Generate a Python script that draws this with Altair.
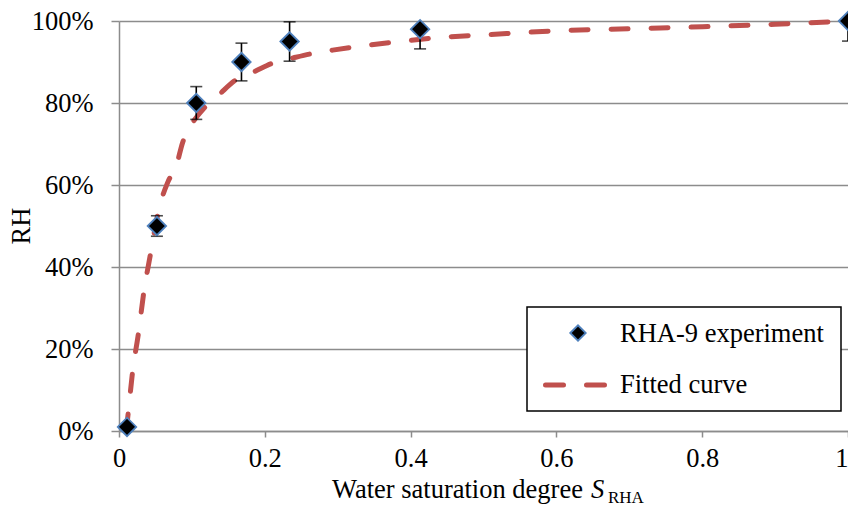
import altair as alt
import pandas as pd

# Experimental data (water saturation degree vs RH %)
sat_exp = [0.011, 0.052, 0.106, 0.168, 0.234, 0.413, 1.0]
rh_exp = [1, 50, 80, 90, 95, 98, 100]
rh_err = [0, 2.5, 4.0, 4.6, 4.8, 4.8, 4.9]

# Fitted curve
sat_fit = [0.010, 0.013, 0.019, 0.026, 0.035, 0.042, 0.056, 0.067, 0.079, 0.087,
           0.099, 0.117, 0.137, 0.160, 0.185, 0.212, 0.239, 0.269, 0.293, 0.380,
           0.450, 0.500, 0.600, 0.700, 0.800, 0.900, 1.000]
rh_fit = [0, 5, 15, 23, 35, 42, 55, 60.7, 64.9, 70.2,
          74.6, 78.8, 82, 85.6, 87.6, 89.8, 91, 92.2, 92.9, 94.9,
          96.1, 96.6, 97.6, 98.1, 98.6, 99.2, 100]

x_ticks = [0, 0.2, 0.4, 0.6, 0.8, 1.0]
y_ticks = [0, 20, 40, 60, 80, 100]

legend_labels = ["RHA-9 experiment", "Fitted curve"]
x_title = "Water saturation degree "
x_title_sym = "S"
x_title_sub = "RHA"
y_title = "RH"

FONT = "Liberation Serif, Times New Roman, Tinos, DejaVu Serif, serif"
FS = 26.5
GRAY = "#8c8c8c"
RED = "#c0504d"
BLUE = "#4f81bd"

exp_df = pd.DataFrame({
    "s": sat_exp,
    "rh": rh_exp,
    "lo": [r - e for r, e in zip(rh_exp, rh_err)],
    "hi": [r + e for r, e in zip(rh_exp, rh_err)],
})
fit_df = pd.DataFrame({"s": sat_fit, "rh": rh_fit})
one = pd.DataFrame({"a": [0]})

xs = alt.Scale(domain=[0, 1], nice=False, zero=False)
ys = alt.Scale(domain=[0, 100], nice=False)

x_axis = alt.Axis(values=x_ticks, format="~g", title=None, grid=False,
                  domainColor=GRAY, domainWidth=1.5, tickColor=GRAY, tickWidth=1.5,
                  tickSize=6, labelFont=FONT, labelFontSize=FS, labelColor="black",
                  labelPadding=8, labelFlush=False, labelOverlap=False,
                  labelAlign=alt.condition("datum.value >= 1", alt.value("right"), alt.value("center")))
y_axis = alt.Axis(values=y_ticks, labelExpr="datum.value + '%'", title=None, grid=True,
                  gridColor=GRAY, gridWidth=1.5, domainColor=GRAY, domainWidth=1.5,
                  tickColor=GRAY, tickWidth=1.5, tickSize=8, labelFont=FONT,
                  labelFontSize=FS, labelColor="black", labelPadding=18)

fit = alt.Chart(fit_df).mark_line(
    color=RED, strokeWidth=5, strokeDash=[17, 23], strokeCap="round", interpolate="monotone"
).encode(
    x=alt.X("s:Q", scale=xs, axis=x_axis),
    y=alt.Y("rh:Q", scale=ys, axis=y_axis),
    order="s:Q",
)

err = alt.Chart(exp_df).mark_rule(color="black", strokeWidth=1.6, clip=True).encode(
    x=alt.X("s:Q", scale=xs), y=alt.Y("lo:Q", scale=ys), y2="hi:Q"
)
cap_lo = alt.Chart(exp_df).mark_tick(color="black", thickness=1.6, size=12, orient="horizontal", clip=True).encode(
    x=alt.X("s:Q", scale=xs), y=alt.Y("lo:Q", scale=ys)
)
cap_hi = alt.Chart(exp_df).mark_tick(color="black", thickness=1.6, size=12, orient="horizontal", clip=True).encode(
    x=alt.X("s:Q", scale=xs), y=alt.Y("hi:Q", scale=ys)
)
pts = alt.Chart(exp_df).mark_point(
    shape="diamond", filled=True, fill="black", stroke=BLUE, strokeWidth=1.8, size=340, opacity=1
).encode(x=alt.X("s:Q", scale=xs), y=alt.Y("rh:Q", scale=ys))

# Legend (drawn as annotation)
leg_box = alt.Chart(one).mark_rect(fill="white", stroke="black", strokeWidth=1.5).encode(
    x=alt.value(408), x2=alt.value(722), y=alt.value(286), y2=alt.value(390)
)
leg_pt = alt.Chart(one).mark_point(
    shape="diamond", filled=True, fill="black", stroke=BLUE, strokeWidth=1.8, size=240, opacity=1
).encode(x=alt.value(459), y=alt.value(312))
leg_line = alt.Chart(one).mark_rule(color=RED, strokeWidth=5, strokeDash=[18, 23], strokeCap="round").encode(
    x=alt.value(426.5), x2=alt.value(486), y=alt.value(364)
)
leg_t1 = alt.Chart(one).mark_text(text=legend_labels[0], font=FONT, fontSize=FS, align="left",
                                  baseline="alphabetic", color="black").encode(
    x=alt.value(501), y=alt.value(321))
leg_t2 = alt.Chart(one).mark_text(text=legend_labels[1], font=FONT, fontSize=FS, align="left",
                                  baseline="alphabetic", color="black").encode(
    x=alt.value(501), y=alt.value(372))

# Axis titles
xt1 = alt.Chart(one).mark_text(text=x_title, font=FONT, fontSize=FS, align="left",
                               baseline="alphabetic", color="black").encode(
    x=alt.value(213), y=alt.value(477))
xt2 = alt.Chart(one).mark_text(text=x_title_sym, font=FONT, fontSize=FS, fontStyle="italic",
                               align="left", baseline="alphabetic", color="black").encode(
    x=alt.value(472), y=alt.value(477))
xt3 = alt.Chart(one).mark_text(text=x_title_sub, font=FONT, fontSize=17, align="left",
                               baseline="alphabetic", color="black").encode(
    x=alt.value(489), y=alt.value(482))
yt = alt.Chart(one).mark_text(text=y_title, font=FONT, fontSize=FS, angle=270, align="center",
                              baseline="middle", color="black").encode(
    x=alt.value(-97), y=alt.value(205))

chart = alt.layer(
    fit, err, cap_lo, cap_hi, pts, leg_box, leg_pt, leg_line, leg_t1, leg_t2, xt1, xt2, xt3, yt
).properties(
    width=729, height=410,
    autosize=alt.AutoSizeParams(type="none"),
    padding={"left": 111, "top": 13, "right": 0, "bottom": 75},
).configure_view(stroke=None)

chart.save("out.html", embed_options={"renderer": "svg", "actions": False})
